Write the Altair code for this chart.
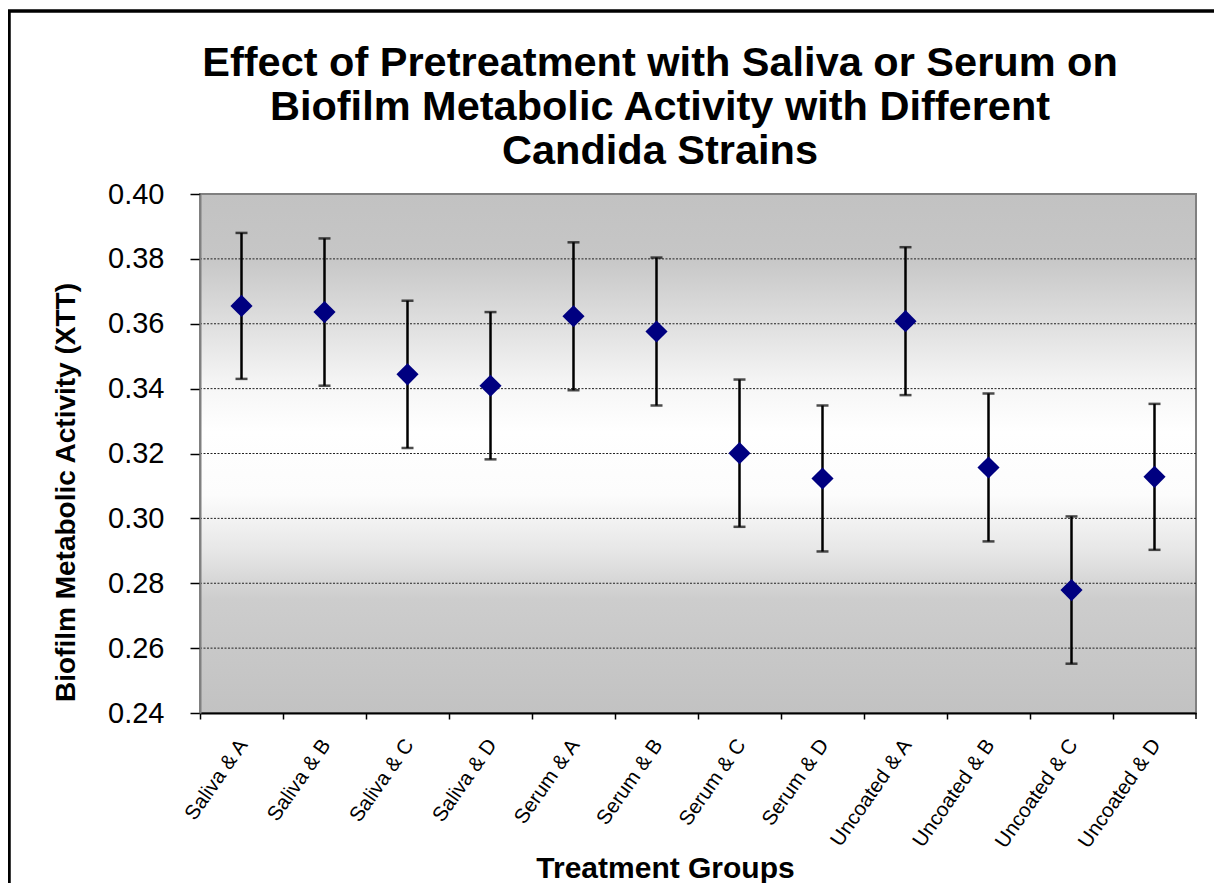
import altair as alt
import pandas as pd

categories = ["Saliva & A", "Saliva & B", "Saliva & C", "Saliva & D",
              "Serum & A", "Serum & B", "Serum & C", "Serum & D",
              "Uncoated & A", "Uncoated & B", "Uncoated & C", "Uncoated & D"]
means = [0.3655, 0.3636, 0.3444, 0.3409, 0.3623, 0.3576,
         0.3201, 0.3123, 0.3608, 0.3157, 0.2779, 0.3128]
errors = [0.0225, 0.0227, 0.0227, 0.0227, 0.0228, 0.0228,
          0.0227, 0.0225, 0.0228, 0.0228, 0.0227, 0.0225]
y_ticks = [0.24, 0.26, 0.28, 0.30, 0.32, 0.34, 0.36, 0.38, 0.40]
grid_values = [0.26, 0.28, 0.30, 0.32, 0.34, 0.36, 0.38]

title_lines = ["Effect of Pretreatment with Saliva or Serum on",
               "Biofilm Metabolic Activity with Different",
               "Candida Strains"]
y_title = "Biofilm Metabolic Activity (XTT)"
x_title = "Treatment Groups"

df = pd.DataFrame({
    "group": categories,
    "mean": means,
    "lo": [m - e for m, e in zip(means, errors)],
    "hi": [m + e for m, e in zip(means, errors)],
})
grid_df = pd.DataFrame({"v": grid_values})
one = pd.DataFrame({"a": [0]})

W, H = 996, 519
FONT = "Liberation Sans"

yscale = alt.Scale(domain=[0.24, 0.40], nice=False, zero=False)
yaxis = alt.Axis(values=y_ticks, format=".2f", grid=False,
                 labelFontSize=29, labelColor="black", labelPadding=26,
                 tickSize=10, tickColor="black", tickWidth=1.5,
                 domainColor="#808080", domainWidth=2,
                 titleFontSize=28, titleFontWeight="bold", titleColor="black",
                 titleX=-134, titleY=298, titleAlign="center",
                 titleBaseline="middle", titleAngle=-90, zindex=1)
xscale = alt.Scale(domain=categories, paddingInner=0, paddingOuter=0)
xaxis = alt.Axis(bandPosition=0, labelAngle=-55, labelOffset=2,
                 labelAlign="right", labelBaseline="middle",
                 labelFontSize=20.5, labelColor="black", labelPadding=22,
                 labelOverlap=False, labelFlush=False,
                 tickSize=6, tickColor="black", tickWidth=1.5,
                 domainColor="black", domainWidth=2, grid=False,
                 titleFontSize=30, titleFontWeight="bold", titleColor="black",
                 titleX=465, titleY=164, titleAlign="center",
                 titleBaseline="alphabetic", zindex=1)


def Y(field):
    return alt.Y(field, type="quantitative", scale=yscale, axis=yaxis, title=y_title)


def X():
    return alt.X("group:N", scale=xscale, axis=xaxis, title=x_title, sort=categories)


gradient = alt.Gradient(
    gradient="linear", x1=0, x2=0, y1=0, y2=1,
    stops=[
        alt.GradientStop(color="#c2c2c2", offset=0),
        alt.GradientStop(color="#c6c6c6", offset=0.12),
        alt.GradientStop(color="#f6f6f6", offset=0.37),
        alt.GradientStop(color="#ffffff", offset=0.46),
        alt.GradientStop(color="#fcfcfc", offset=0.58),
        alt.GradientStop(color="#e6e6e6", offset=0.69),
        alt.GradientStop(color="#cdcdcd", offset=0.78),
        alt.GradientStop(color="#c2c2c2", offset=1),
    ],
)

bg = alt.Chart(one).mark_rect(fill=gradient, stroke="#808080", strokeWidth=2).encode(
    x=alt.value(0), x2=alt.value(W), y=alt.value(0), y2=alt.value(H)
)

grid = alt.Chart(grid_df).mark_rule(color="#222222", strokeWidth=1, strokeDash=[2, 1.5]).encode(
    y=Y("v")
)

bars = alt.Chart(df).mark_rule(color="black", strokeWidth=2.5).encode(
    x=X(), y=Y("lo"), y2="hi"
)
cap_lo = alt.Chart(df).mark_tick(color="black", size=12, thickness=2.5).encode(
    x=X(), y=Y("lo")
)
cap_hi = alt.Chart(df).mark_tick(color="black", size=12, thickness=2.5).encode(
    x=X(), y=Y("hi")
)
points = alt.Chart(df).mark_point(shape="diamond", filled=True, size=490,
                                  color="#000080", opacity=1).encode(
    x=X(), y=Y("mean")
)

end_tick = alt.Chart(one).mark_rule(color="black", strokeWidth=1.5).encode(
    x=alt.value(W), y=alt.value(H), y2=alt.value(H + 6)
)

frame = alt.Chart(one).mark_rect(fillOpacity=0, stroke="black", strokeWidth=3.5).encode(
    x=alt.value(-191), y=alt.value(-183), x2=alt.value(W + 200), y2=alt.value(H + 400)
)

chart = alt.layer(bg, grid, bars, cap_lo, cap_hi, points, end_tick, frame).properties(
    width=W, height=H,
    title=alt.TitleParams(text=title_lines, fontSize=41.5, fontWeight="bold",
                          font=FONT, color="black", anchor="middle", frame="group",
                          dx=-38, offset=-163, lineHeight=44),
    padding={"left": 192, "top": 186, "right": 18, "bottom": 170},
    autosize=alt.AutoSizeParams(type="none"),
).configure(font=FONT, background="white").configure_view(stroke=None)

chart.save("out.html", embed_options={"renderer": "svg", "actions": False})
